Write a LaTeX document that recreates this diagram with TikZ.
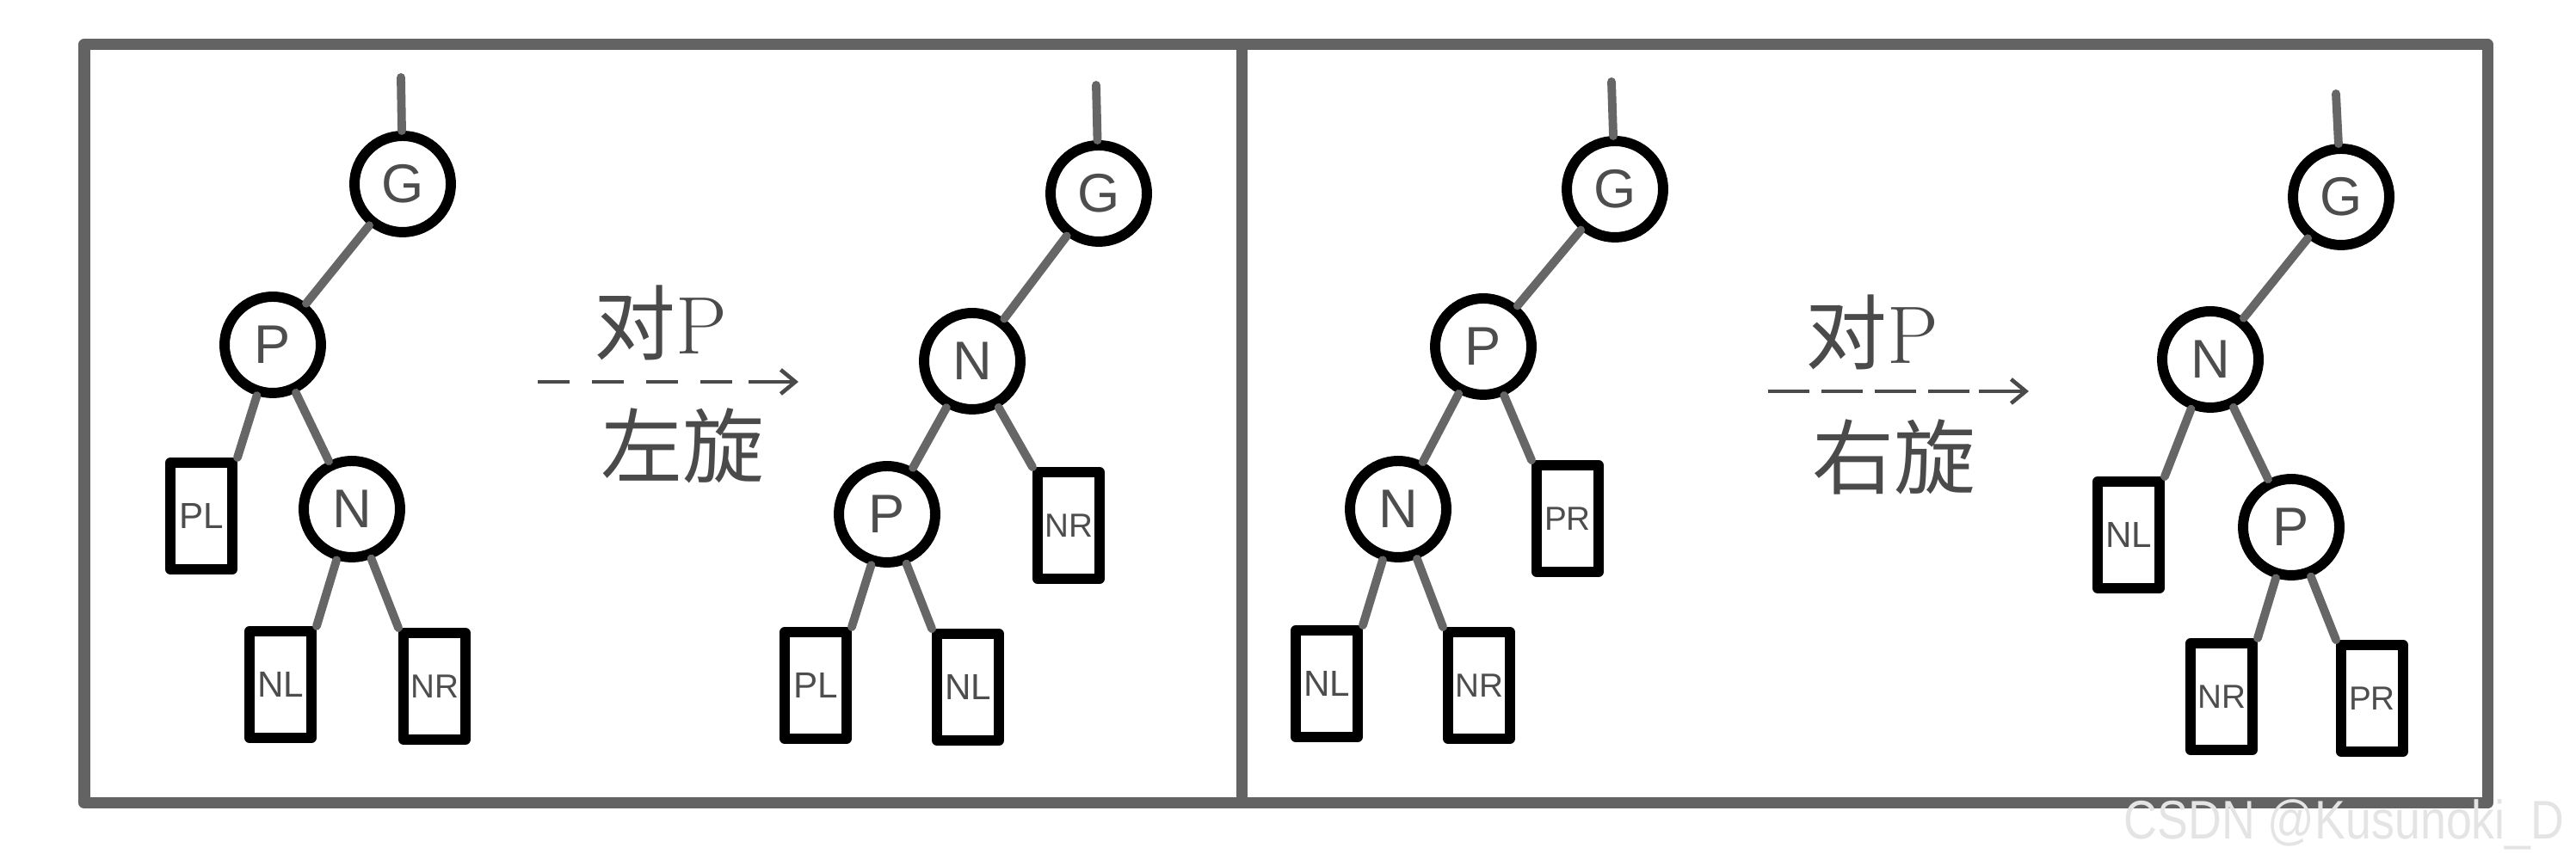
\documentclass[tikz,border=0pt]{standalone}
\usepackage{fontspec}
\setsansfont{Liberation Sans}
\newfontfamily\cjkfont{Noto Sans CJK SC}
\newfontfamily\wmfont{Liberation Sans}[FakeStretch=0.85]
\usepackage{xcolor}
\usepackage{tikz}
\usetikzlibrary{arrows.meta, positioning}
\definecolor{frameA}{HTML}{636363}
\definecolor{edgeA}{HTML}{666666}
\definecolor{textA}{HTML}{4D4D4D}
\definecolor{labelA}{HTML}{4A4A4A}
\definecolor{markA}{HTML}{E4E4E4}
\tikzset{
  rb/.style={
    circle, draw=black, fill=white, line width=3.4pt,
    minimum size=1.12cm, inner sep=0pt, text=textA,
    font=\sffamily\fontsize{18}{18}\selectfont
  },
  leaf/.style={
    rectangle, draw=black, fill=white, line width=3.4pt, line join=round,
    minimum width=0.72cm, minimum height=1.24cm, inner sep=0pt, text=textA,
    font=\sffamily\fontsize{12}{12}\selectfont
  },
  wide/.style={font=\sffamily\fontsize{11}{11}\selectfont},
  link/.style={draw=edgeA, line width=2.8pt, line cap=round},
  turnline/.style={line width=1.3pt, color=labelA},
  turn/.style={-{Straight Barb[length=1.7mm, width=2.8mm]}, line width=1.3pt, color=labelA},
  tag/.style={text=labelA, font=\fontsize{27}{27}\selectfont, inner sep=0pt},
  panel/.style={draw=frameA, line width=3.7pt, line join=round}
}

\begin{document}
\begin{tikzpicture}[on grid]
  \useasboundingbox (0,0) rectangle (29.94,10);

  % frame
  \draw[panel] (0.98,0.66) rectangle (28.91,9.485);
  \coordinate (midtop) at (14.43,9.485);
  \coordinate (midbot) at (14.43,0.66);
  \draw[panel] (midtop) -- (midbot);

  % left rotation, before
  \node[rb] (G1) at (4.68,7.86) {G};
  \coordinate[above left=1.24cm and 0.02cm of G1] (T1);
  \node[rb, below left=1.87cm and 1.51cm of G1] (P1) {P};
  \node[leaf, below left=1.99cm and 0.83cm of P1] (PL1) {PL};
  \node[rb, below right=1.91cm and 0.92cm of P1] (N1) {N};
  \node[leaf, below left=2.04cm and 0.83cm of N1] (NL1) {NL};
  \node[leaf, wide, below right=2.06cm and 0.96cm of N1] (NR1) {NR};
  \draw[link] (T1) -- (G1);
  \draw[link] (G1) -- (P1);
  \draw[link] (P1) -- (PL1.north east);
  \draw[link] (P1) -- (N1);
  \draw[link] (N1) -- (NL1.north east);
  \draw[link] (N1) -- (NR1.north west);

  % left rotation, after
  \node[rb] (G2) at (12.77,7.75) {G};
  \coordinate[above left=1.26cm and 0.03cm of G2] (T2);
  \node[rb, below left=1.95cm and 1.47cm of G2] (N2) {N};
  \node[rb, below left=1.78cm and 0.99cm of N2] (P2) {P};
  \node[leaf, wide, below right=1.91cm and 1.12cm of N2] (NR2) {NR};
  \node[leaf, below left=1.99cm and 0.83cm of P2] (PL2) {PL};
  \node[leaf, below right=2.01cm and 0.94cm of P2] (NL2) {NL};
  \draw[link] (T2) -- (G2);
  \draw[link] (G2) -- (N2);
  \draw[link] (N2) -- (P2);
  \draw[link] (N2) -- (NR2.north west);
  \draw[link] (P2) -- (PL2.north east);
  \draw[link] (P2) -- (NL2.north west);

  \coordinate (A1s) at (6.25,5.56);
  \coordinate (A1m) at (8.60,5.56);
  \coordinate (A1h) at (8.70,5.56);
  \coordinate (A1e) at (9.28,5.56);
  \draw[turnline, dash pattern=on 3.7mm off 2.6mm] (A1s) -- (A1m);
  \draw[turn] (A1h) -- (A1e);
  \node[tag] (up1) at (7.68,6.25) {{\cjkfont 对}P};
  \node[tag] (down1) at (7.93,4.82) {\cjkfont 左旋};

  % right rotation, before
  \node[rb] (G3) at (18.77,7.80) {G};
  \coordinate[above left=1.25cm and 0.04cm of G3] (T3);
  \node[rb, below left=1.83cm and 1.53cm of G3] (P3) {P};
  \node[rb, below left=1.89cm and 0.99cm of P3] (N3) {N};
  \node[leaf, wide, below right=2.00cm and 0.98cm of P3] (PR3) {PR};
  \node[leaf, below left=2.03cm and 0.83cm of N3] (NL3) {NL};
  \node[leaf, wide, below right=2.05cm and 0.94cm of N3] (NR3) {NR};
  \draw[link] (T3) -- (G3);
  \draw[link] (G3) -- (P3);
  \draw[link] (P3) -- (N3);
  \draw[link] (P3) -- (PR3.north west);
  \draw[link] (N3) -- (NL3.north east);
  \draw[link] (N3) -- (NR3.north west);

  % right rotation, after
  \node[rb] (G4) at (27.21,7.71) {G};
  \coordinate[above left=1.20cm and 0.06cm of G4] (T4);
  \node[rb, below left=1.89cm and 1.52cm of G4] (N4) {N};
  \node[leaf, below left=2.04cm and 0.95cm of N4] (NL4) {NL};
  \node[rb, below right=1.95cm and 0.94cm of N4] (P4) {P};
  \node[leaf, wide, below left=1.97cm and 0.81cm of P4] (NR4) {NR};
  \node[leaf, wide, below right=1.99cm and 0.94cm of P4] (PR4) {PR};
  \draw[link] (T4) -- (G4);
  \draw[link] (G4) -- (N4);
  \draw[link] (N4) -- (NL4.north east);
  \draw[link] (N4) -- (P4);
  \draw[link] (P4) -- (NR4.north east);
  \draw[link] (P4) -- (PR4.north west);

  \coordinate (A2s) at (20.55,5.45);
  \coordinate (A2m) at (22.90,5.45);
  \coordinate (A2h) at (23.00,5.45);
  \coordinate (A2e) at (23.58,5.45);
  \draw[turnline, dash pattern=on 4.8mm off 1.4mm] (A2s) -- (A2m);
  \draw[turn] (A2h) -- (A2e);
  \node[tag] (up2) at (21.76,6.14) {{\cjkfont 对}P};
  \node[tag] (down2) at (22.01,4.69) {\cjkfont 右旋};

  \node[anchor=base west, inner sep=0pt, text=markA,
    font=\wmfont\fontsize{18}{18}\selectfont] (mark) at (24.68,0.24) {CSDN @Kusunoki\_D};
\end{tikzpicture}
\end{document}
